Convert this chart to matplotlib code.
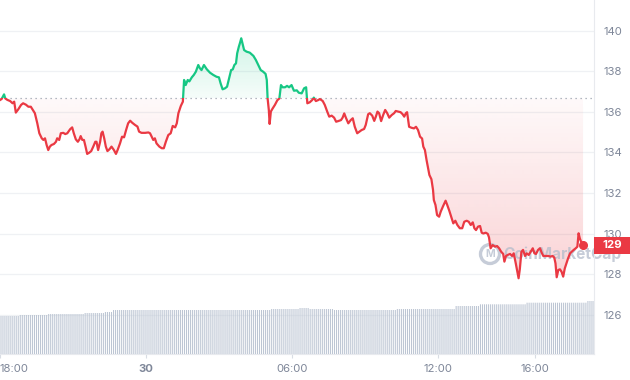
import matplotlib
matplotlib.use("Agg")
import matplotlib.pyplot as plt
import numpy as np
from matplotlib.patches import Rectangle, Ellipse
from matplotlib.transforms import blended_transform_factory
from matplotlib.colors import to_rgb

plt.rcParams['font.family'] = ['Inter', 'DejaVu Sans']

# ---------------- data ----------------
# minutes since 18:00 on the 29th
minutes = [0, 4, 10, 13, 18, 25, 31, 35, 39, 45, 52, 57, 64, 70, 76, 80, 86, 92, 97, 103,
           107, 111, 115, 119, 123, 127, 133, 138, 141, 146, 150, 156, 161, 166, 173, 178, 182, 187, 192, 196,
           199, 203, 207, 211, 215, 220, 225, 230, 235, 238, 242, 247, 250, 253, 257, 261, 265, 270, 275, 281,
           286, 290, 296, 301, 306, 311, 316, 321, 326, 333, 339, 343, 349, 358, 366, 370, 378, 382, 386, 393,
           399, 404, 409, 415, 421, 426, 432, 436, 440, 446, 451, 454, 458, 463, 467, 473, 478, 483, 489, 493,
           497, 503, 510, 518, 526, 534, 540, 544, 549, 555, 560, 565, 570, 574, 578, 582, 585, 589, 592, 595,
           598, 602, 608, 616, 625, 631, 637, 643, 649, 655, 658, 660, 663, 665, 668, 672, 678, 684, 689, 693,
           697, 703, 708, 713, 719, 725, 732, 737, 744, 750, 755, 758, 764, 770, 774, 779, 785, 789, 796, 801,
           807, 812, 818, 824, 829, 834, 841, 845, 849, 853, 859, 865, 870, 875, 881, 886, 892, 898, 902, 908,
           912, 918, 923, 927, 931, 935, 940, 945, 950, 955, 960, 966, 972, 976, 982, 988, 993, 997, 1001, 1004,
           1009, 1015, 1021, 1026, 1031, 1036, 1041, 1044, 1048, 1052, 1059, 1064, 1068, 1070, 1074, 1078, 1083, 1087, 1093, 1099,
           1103, 1108, 1114, 1118, 1123, 1128, 1134, 1140, 1145, 1151, 1156, 1161, 1166, 1170, 1174, 1179, 1184, 1188, 1192, 1198,
           1203, 1206, 1210, 1215, 1221, 1226, 1231, 1236, 1241, 1244, 1248, 1252, 1258, 1263, 1267, 1272, 1276, 1279, 1282, 1286,
           1290, 1295, 1299, 1304, 1309, 1314, 1318, 1322, 1327, 1332, 1336, 1340, 1346, 1352, 1358, 1363, 1367, 1370, 1373, 1377,
           1381, 1385, 1389, 1393, 1397, 1401, 1406, 1410, 1415, 1420, 1424, 1427, 1430, 1434, 1438]

prices = [136.59, 136.64, 136.87, 136.67, 136.60, 136.54, 136.43, 136.51, 135.97, 136.13,
          136.35, 136.43, 136.36, 136.26, 136.26, 136.13, 135.94, 135.44, 134.95, 134.70,
          134.62, 134.70, 134.37, 134.12, 134.29, 134.37, 134.42, 134.53, 134.70, 134.62,
          134.95, 134.97, 134.91, 134.95, 135.15, 135.24, 134.95, 134.65, 134.53, 134.65,
          134.81, 134.62, 134.62, 134.29, 133.93, 133.99, 134.07, 134.29, 134.53, 134.53,
          134.12, 134.53, 134.95, 135.03, 134.70, 134.29, 134.07, 134.16, 134.29, 134.12,
          133.93, 134.12, 134.45, 134.78, 134.75, 135.11, 135.44, 135.57, 135.47, 135.36,
          135.28, 135.03, 134.97, 134.97, 134.99, 134.95, 134.62, 134.70, 134.45, 134.29,
          134.21, 134.21, 134.53, 134.86, 134.95, 135.31, 135.24, 135.44, 135.94, 136.30,
          136.51, 137.58, 137.33, 137.58, 137.51, 137.71, 137.83, 137.99, 138.32, 138.16,
          138.07, 138.32, 138.11, 137.94, 137.83, 137.74, 137.71, 137.42, 137.12, 137.17,
          137.25, 137.66, 138.07, 138.10, 138.32, 138.40, 138.90, 139.22, 139.42, 139.64,
          139.40, 139.06, 138.98, 138.93, 138.77, 138.57, 138.32, 138.07, 137.99, 137.88,
          137.58, 136.67, 136.10, 135.41, 136.02, 136.16, 136.35, 136.58, 136.67, 137.33,
          137.22, 137.22, 137.29, 137.22, 137.33, 137.05, 137.07, 136.95, 136.92, 137.17,
          137.22, 136.43, 136.48, 136.59, 136.71, 136.54, 136.59, 136.64, 136.54, 136.35,
          136.02, 135.77, 135.82, 135.72, 135.52, 135.55, 135.60, 135.72, 135.93, 135.72,
          135.44, 135.60, 135.69, 135.27, 134.95, 135.02, 135.11, 135.16, 135.36, 135.89,
          135.94, 135.82, 135.56, 135.77, 136.02, 135.94, 135.55, 135.85, 136.10, 135.94,
          135.72, 135.85, 135.94, 136.05, 136.02, 135.99, 135.89, 135.77, 135.94, 135.99,
          135.27, 135.22, 135.19, 135.27, 135.11, 134.78, 134.69, 134.29, 134.12, 133.63,
          132.89, 132.68, 132.15, 131.65, 131.41, 130.91, 130.83, 131.08, 131.36, 131.62,
          131.41, 131.13, 130.75, 130.50, 130.63, 130.42, 130.26, 130.26, 130.58, 130.63,
          130.58, 130.42, 130.55, 130.26, 130.17, 130.34, 130.37, 130.04, 130.00, 130.04,
          129.98, 129.81, 129.27, 129.43, 129.35, 129.38, 129.27, 129.10, 128.99, 128.61,
          128.89, 128.94, 128.99, 128.89, 129.02, 128.53, 128.11, 127.79, 128.23, 129.10,
          129.19, 128.89, 129.02, 128.94, 129.10, 129.27, 129.02, 128.99, 129.19, 129.27,
          129.05, 128.89, 128.89, 128.89, 128.86, 128.89, 128.81, 128.53, 127.84, 128.20,
          128.23, 128.11, 127.87, 128.28, 128.53, 128.77, 129.02, 129.10, 129.19, 129.27,
          129.35, 130.01, 129.76, 129.55, 129.43]

base_price = 136.67          # reference (dotted) price

# volume bars, one per 5 minutes starting 18:00 (arbitrary units)
volume = [3.8, 3.8, 3.8, 3.8, 3.8, 3.8, 3.8, 3.8, 3.8, 3.8,
          3.9, 3.9, 3.9, 3.9, 3.9, 3.9, 3.9, 3.9, 3.9, 3.9, 3.9, 3.9, 3.9, 3.9,
          4.0, 4.0, 4.0, 4.0, 4.0, 4.0, 4.0, 4.0, 4.0, 4.0, 4.0, 4.0, 4.0, 4.0, 4.0, 4.0, 4.0, 4.0,
          4.1, 4.1, 4.1, 4.1, 4.1, 4.1, 4.1, 4.1, 4.1, 4.1,
          4.2, 4.2, 4.2, 4.2,
          4.4, 4.4, 4.4, 4.4, 4.4, 4.4, 4.4, 4.4, 4.4, 4.4, 4.4, 4.4, 4.4, 4.4, 4.4, 4.4, 4.4, 4.4, 4.4, 4.4, 4.4, 4.4,
          4.4, 4.4, 4.4, 4.4, 4.4, 4.4, 4.4, 4.4, 4.4, 4.4, 4.4, 4.4, 4.4, 4.4, 4.4, 4.4, 4.4, 4.4, 4.4, 4.4, 4.4, 4.4,
          4.4, 4.4, 4.4, 4.4, 4.4, 4.4, 4.4, 4.4, 4.4, 4.4, 4.4, 4.4, 4.4, 4.4, 4.4, 4.4, 4.4, 4.4, 4.4, 4.4, 4.4, 4.4,
          4.4, 4.4, 4.4, 4.4, 4.4, 4.4, 4.4, 4.4, 4.4, 4.4, 4.4, 4.4,
          4.5, 4.5, 4.5, 4.5, 4.5, 4.5, 4.5, 4.5, 4.5, 4.5, 4.5, 4.5, 4.5, 4.5,
          4.6, 4.6, 4.6, 4.6, 4.6,
          4.5, 4.5, 4.5, 4.5, 4.5, 4.5, 4.5, 4.5, 4.5, 4.5, 4.5, 4.5,
          4.4, 4.4, 4.4, 4.4, 4.4, 4.4, 4.4, 4.4, 4.4, 4.4, 4.4, 4.4, 4.4, 4.4, 4.4, 4.4,
          4.4, 4.4, 4.4, 4.4, 4.4, 4.4, 4.4, 4.4, 4.4, 4.4, 4.4, 4.4, 4.4, 4.4, 4.4,
          4.5, 4.5, 4.5, 4.5, 4.5, 4.5, 4.5, 4.5, 4.5, 4.5, 4.5, 4.5, 4.5, 4.5, 4.5,
          4.5, 4.5, 4.5, 4.5, 4.5, 4.5, 4.5, 4.5, 4.5, 4.5, 4.5, 4.5, 4.5, 4.5,
          4.8, 4.8, 4.8, 4.8, 4.8, 4.8, 4.8, 4.8, 4.8, 4.8, 4.8, 4.8,
          4.97, 4.97, 4.97, 4.97, 4.97, 4.97, 4.97, 4.97, 4.97, 4.97, 4.97, 4.97,
          4.97, 4.97, 4.97, 4.97, 4.97, 4.97, 4.97, 4.97, 4.97, 4.97, 4.97,
          5.13, 5.13, 5.13, 5.13, 5.13, 5.13, 5.13, 5.13, 5.13, 5.13, 5.13, 5.13, 5.13, 5.13, 5.13,
          5.13, 5.13, 5.13, 5.13, 5.13, 5.13, 5.13, 5.13, 5.13, 5.13, 5.13, 5.13, 5.13, 5.13, 5.13,
          5.3, 5.3, 5.3, 5.3, 5.3, 5.3, 5.3, 5.3, 5.3, 5.3]
volume_step_min = 5

xtick_minutes = [0, 360, 720, 1080, 1320]
xtick_labels = ['18:00', '30', '06:00', '12:00', '16:00']
ytick_values = [126, 128, 130, 132, 134, 136, 138, 140]

# ---------------- style ----------------
RED = '#ea3943'
GREEN = '#16c784'
GRID = '#eff1f4'
LABEL = '#7f8799'

W, H = 630, 380
fig = plt.figure(figsize=(W / 100, H / 100), dpi=100)
fig.patch.set_facecolor('white')
rect = [0, 26 / H, 594 / W, 354 / H]
ax = fig.add_axes(rect)
ax.set_zorder(1)
ax.patch.set_visible(False)

XMIN, XMAX = 0, 1465
YMIN, YMAX = 124.05, 141.53

x = np.array(minutes, dtype=float)
y = np.array(prices, dtype=float)


def gradient_fill(ax, x, y_clip, y0, y1, a0, a1, color):
    """fill between curve and base with vertical alpha gradient (a0 at y0 -> a1 at y1)"""
    poly = ax.fill_between(x, y_clip, base_price, facecolor='none', edgecolor='none')
    path = poly.get_paths()[0]
    n = 256
    rgba = np.zeros((n, 1, 4))
    rgba[:, 0, :3] = to_rgb(color)
    rgba[:, 0, 3] = np.linspace(a0, a1, n)
    lo, hi = min(y0, y1), max(y0, y1)
    if y0 > y1:
        rgba = rgba[::-1]
    im = ax.imshow(rgba, extent=[x[0], x[-1], lo, hi], origin='lower',
                   aspect='auto', zorder=1.5, interpolation='bilinear')
    im.set_clip_path(path, transform=ax.transData)


gradient_fill(ax, x, np.maximum(y, base_price), base_price, YMAX, 0.04, 0.30, GREEN)
gradient_fill(ax, x, np.minimum(y, base_price), base_price, YMIN, 0.03, 0.30, RED)

# price line, coloured by side of reference price
lg, = ax.plot(x, y, color=GREEN, lw=1.6, zorder=3, solid_joinstyle='round')
lg.set_clip_path(Rectangle((XMIN, base_price), XMAX - XMIN, YMAX - base_price, transform=ax.transData))
lr, = ax.plot(x, y, color=RED, lw=1.6, zorder=3, solid_joinstyle='round')
lr.set_clip_path(Rectangle((XMIN, YMIN), XMAX - XMIN, base_price - YMIN, transform=ax.transData))

# reference dotted line
ax.plot([XMIN, XMAX - 5], [base_price, base_price], color='#9aa1ad', lw=0.9,
        ls=(0, (1, 3)), zorder=2.5)

# end marker
ax.plot([x[-1]], [y[-1]], 'o', color=RED, ms=5.5, zorder=4)

ax.set_xlim(XMIN, XMAX)
ax.set_ylim(YMIN, YMAX)

# grid / axes
ax.set_yticks(ytick_values)
ax.set_yticklabels([str(v) for v in ytick_values])
ax.yaxis.tick_right()
ax.grid(axis='y', color=GRID, lw=0.9, zorder=0)
ax.set_axisbelow(True)
ax.tick_params(axis='y', length=0, pad=7, labelsize=8.2, labelcolor=LABEL)
ax.set_xticks(xtick_minutes)
ax.set_xticklabels(xtick_labels)
ax.tick_params(axis='x', length=3, width=0.8, color='#d9dde4', pad=4, labelsize=8.2, labelcolor=LABEL)
for lbl in ax.get_xticklabels():
    if lbl.get_text() == '30':
        lbl.set_fontweight('bold')
ax.get_xticklabels()[0].set_horizontalalignment('left')
for s in ['top', 'left']:
    ax.spines[s].set_visible(False)
ax.spines['right'].set_color('#e8eaee')
ax.spines['bottom'].set_color('#e8eaee')
ax.spines['right'].set_linewidth(0.8)
ax.spines['bottom'].set_linewidth(0.8)

# watermark (above fill, below price line)
wm_color = '#b3bccb'
wm_y = 1 - 254 / H
wm = ax.text(503 / W, wm_y, 'CoinMarketCap', transform=fig.transFigure, fontsize=12,
             fontweight='bold', color=wm_color, alpha=0.75, ha='left', va='center', zorder=2,
             clip_on=False)
renderer = fig.canvas.get_renderer()
wm_w = wm.get_window_extent(renderer).width
wm.set_fontsize(12 * 117 / wm_w)
ax.add_patch(Ellipse((490 / W, wm_y), 19 / W, 19 / H, transform=fig.transFigure,
                     fill=False, ec=wm_color, lw=2.4, alpha=0.75, zorder=2, clip_on=False))
ax.text(490 / W, wm_y, 'M', transform=fig.transFigure, fontsize=7.5, fontweight='bold',
        color=wm_color, alpha=0.75, ha='center', va='center', zorder=2, clip_on=False)

# last-price tag
bt = blended_transform_factory(ax.transAxes, ax.transData)
box_h = 17 / (354 / (YMAX - YMIN))
ax.add_patch(Rectangle((1.0, y[-1] - box_h / 2), W / 594 - 1.0, box_h, transform=bt,
                       facecolor=RED, edgecolor='none', clip_on=False, zorder=6))
ax.text(612 / 594, y[-1], f"{y[-1]:.0f}", transform=bt, ha='center', va='center',
        color='white', fontsize=8.2, fontweight='bold', zorder=7, clip_on=False)

# volume bars on their own scale
axv = fig.add_axes(rect)
axv.set_zorder(2)
axv.patch.set_visible(False)
axv.axis('off')
vx = np.arange(len(volume)) * volume_step_min
bars = axv.bar(vx, volume, width=2.6, color='#bcc5d3', edgecolor='none', align='center')
for b in bars:
    b.set_snap(False)
axv.set_xlim(XMIN, XMAX)
axv.set_ylim(0, 35.4)

fig.savefig('out.png', dpi=100, facecolor='white')
